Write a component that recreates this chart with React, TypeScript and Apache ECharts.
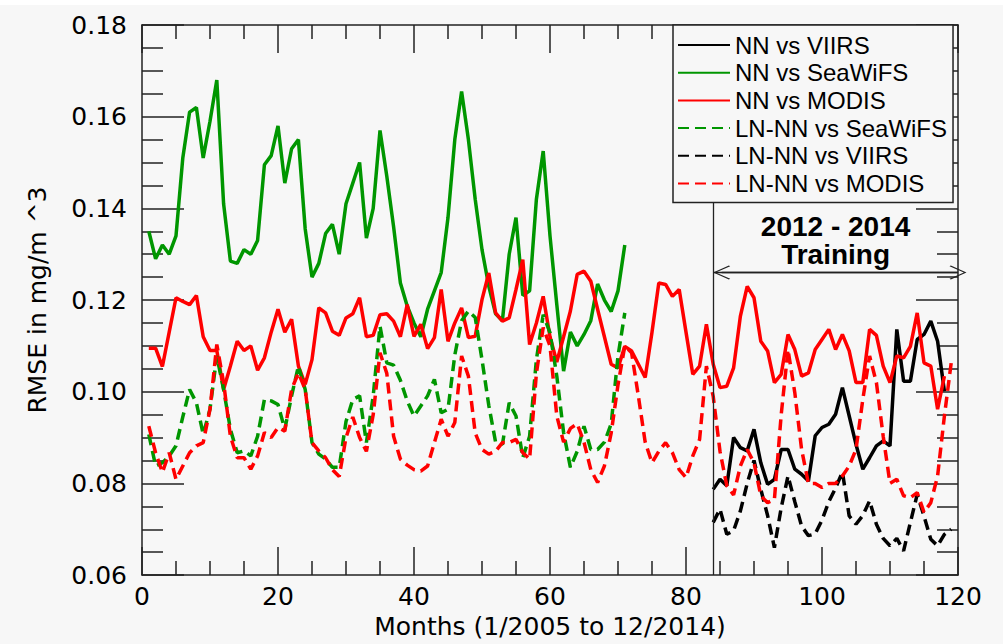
import React, { useEffect, useRef } from "react";
import * as echarts from "echarts";

// ---------- data (monthly RMSE, month 1 = 1/2005) ----------
const seriesNames = [
  "NN vs VIIRS",
  "NN vs SeaWiFS",
  "NN vs MODIS",
  "LN-NN vs SeaWiFS",
  "LN-NN vs VIIRS",
  "LN-NN vs MODIS",
];

const nnSeaWiFSStart = 1;
const nnSeaWiFS = [
  0.135, 0.129, 0.132, 0.13, 0.134, 0.151, 0.161, 0.162, 0.151, 0.159,
  0.168, 0.141, 0.1285, 0.128, 0.131, 0.13, 0.133, 0.1495, 0.1515, 0.158,
  0.1455, 0.153, 0.155, 0.1355, 0.125, 0.128, 0.1345, 0.1365, 0.13, 0.141,
  0.1455, 0.15, 0.1335, 0.14, 0.157, 0.147, 0.136, 0.1237, 0.1187, 0.115,
  0.112, 0.118, 0.122, 0.126, 0.138, 0.155, 0.1655, 0.155, 0.142, 0.131,
  0.123, 0.117, 0.1155, 0.13, 0.138, 0.121, 0.122, 0.142, 0.1525, 0.134,
  0.119, 0.1045, 0.113, 0.11, 0.1125, 0.1155, 0.1235, 0.12, 0.1175, 0.122,
  0.132,
];

const nnModisStart = 1;
const nnModis = [
  0.1095, 0.1095, 0.1055, 0.113, 0.1205, 0.1197, 0.119, 0.121, 0.112, 0.109,
  0.109, 0.1005, 0.1056, 0.111, 0.109, 0.11, 0.1047, 0.1074, 0.113, 0.118,
  0.113, 0.1158, 0.1056, 0.1016, 0.107, 0.1183, 0.1172, 0.1132, 0.1123, 0.1161,
  0.117, 0.1205, 0.112, 0.1123, 0.1168, 0.117, 0.1154, 0.112, 0.119, 0.1121,
  0.1147, 0.1094, 0.1118, 0.1223, 0.111, 0.115, 0.1183, 0.1118, 0.1121, 0.1201,
  0.1259, 0.1172, 0.1154, 0.1161, 0.1223, 0.1288, 0.1103, 0.115, 0.1208, 0.112,
  0.1065, 0.112, 0.1176, 0.1256, 0.1263, 0.1241, 0.118, 0.112, 0.106, 0.1052,
  0.1099, 0.1089, 0.106, 0.1031, 0.113, 0.1237, 0.1234, 0.1208, 0.1223, 0.113,
  0.1038, 0.1056, 0.1147, 0.106, 0.1009, 0.1012, 0.1052, 0.1165, 0.123, 0.1205,
  0.111, 0.1089, 0.102, 0.1038, 0.1125, 0.1092, 0.1034, 0.1041, 0.1092, 0.1114,
  0.1136, 0.1092, 0.1125, 0.1089, 0.102, 0.102, 0.1136, 0.1123, 0.1056, 0.102,
  0.1078, 0.1074, 0.1099, 0.1172, 0.1063, 0.1056, 0.0962, 0.1034,
];

const nnViirsStart = 84;
const nnViirs = [
  0.0787, 0.0809, 0.0795, 0.09, 0.0878, 0.0871, 0.0918,
  0.0845, 0.0798, 0.0809, 0.0874, 0.0874, 0.0831, 0.082, 0.0805, 0.0904, 0.0922,
  0.0929, 0.0951, 0.1009, 0.0947, 0.0885, 0.0831, 0.0856, 0.0882, 0.0893, 0.0882,
  0.1136, 0.1023, 0.1023, 0.1114, 0.1125, 0.1154, 0.111, 0.1001,
];

const lnSeaWiFSStart = 1;
const lnSeaWiFS = [
  0.0907, 0.0838, 0.0845, 0.086, 0.0882, 0.0945, 0.1005, 0.0976, 0.0907, 0.0962,
  0.1078, 0.1005, 0.0918, 0.0867, 0.0871, 0.086, 0.0903, 0.0983, 0.098, 0.0972,
  0.0918, 0.0991, 0.1056, 0.1005, 0.0889, 0.0864, 0.0853, 0.0835, 0.0835, 0.0935,
  0.0983, 0.0991, 0.0889, 0.0991, 0.1143, 0.1063, 0.1058, 0.1025, 0.098, 0.0947,
  0.0969, 0.0991, 0.1027, 0.0954, 0.0962, 0.108, 0.1155, 0.1176, 0.1162, 0.107,
  0.097, 0.089, 0.0885, 0.0976, 0.0947, 0.0856, 0.0903, 0.107, 0.1168, 0.1129,
  0.1034, 0.0911, 0.0835, 0.087, 0.0925, 0.0874, 0.0874, 0.089, 0.093, 0.1078,
  0.1172,
];

const lnViirsStart = 84;
const lnViirs = [
  0.0715, 0.0744, 0.0689, 0.0697, 0.074, 0.08, 0.085,
  0.0787, 0.073, 0.066, 0.0747, 0.0816, 0.076, 0.0707, 0.0686, 0.069, 0.072,
  0.076, 0.079, 0.0825, 0.0729, 0.0711, 0.073, 0.0762, 0.0711, 0.068, 0.0664,
  0.068, 0.0653, 0.0715, 0.0776, 0.0729, 0.0678, 0.0664, 0.0689, 0.07,
];

const lnModisStart = 1;
const lnModis = [
  0.0925, 0.0867, 0.0824, 0.0867, 0.0809, 0.0838, 0.0867, 0.0882, 0.0889, 0.0962,
  0.1103, 0.102, 0.0903, 0.0856, 0.0856, 0.0831, 0.086, 0.0911, 0.09, 0.0922,
  0.0914, 0.1005, 0.1041, 0.1005, 0.0889, 0.0871, 0.0856, 0.083, 0.0815, 0.09,
  0.0945, 0.09, 0.087, 0.095, 0.1085, 0.104, 0.0903, 0.0853, 0.084, 0.083,
  0.0827, 0.0838, 0.0889, 0.094, 0.0903, 0.0933, 0.1078, 0.1034, 0.091, 0.0874,
  0.0864, 0.087, 0.0889, 0.0889, 0.0896, 0.0867, 0.0853, 0.104, 0.114, 0.11,
  0.0947, 0.089, 0.092, 0.093, 0.089, 0.083, 0.0802, 0.0838, 0.091, 0.1015,
  0.11, 0.1085, 0.099, 0.089, 0.0845, 0.087, 0.0889, 0.0867, 0.083, 0.0813,
  0.086, 0.0896, 0.1056, 0.099, 0.087, 0.0795, 0.0775, 0.0838, 0.0874, 0.0845,
  0.0773, 0.0758, 0.0765, 0.095, 0.1092, 0.0998, 0.0874, 0.08, 0.08, 0.0791,
  0.08, 0.08, 0.0816, 0.0838, 0.0874, 0.0983, 0.1078, 0.102, 0.0903, 0.08,
  0.0809, 0.0773, 0.0769, 0.078, 0.0737, 0.0758, 0.0816, 0.0947, 0.1063,
];

const trainingStart = 84;
const trainingEnd = 120;
const trainingArrowY = 0.126;
const trainingLineTop = 0.1413;
const trainingLabel = ["2012 - 2014", "Training"];

const xMin = 0, xMax = 120, xInterval = 20;
const yMin = 0.06, yMax = 0.18, yInterval = 0.02;

// ---------- styling ----------
const AXIS_FONT = "'DejaVu Sans', sans-serif";
const LEGEND_FONT = "'Liberation Sans', Arial, sans-serif";
const AXIS_COLOR = "#222";
const GREEN = "#009600";
const RED = "#ff0000";
const BLACK = "#000000";
const DASH = [11, 6];
const LW = 3.5;
const CHEVRON = "path://M0,0 L10,14 L9,15.2 L0,2.4 L-9,15.2 L-10,14 Z";

const toPairs = (start: number, arr: number[]) => arr.map((v, i) => [start + i, v]);

function makeAxis(kind: "x" | "y", position: string, showLabel: boolean) {
  const isX = kind === "x";
  return {
    type: "value",
    position,
    min: isX ? xMin : yMin,
    max: isX ? xMax : yMax,
    interval: isX ? xInterval : yInterval,
    axisLine: { show: true, onZero: false, lineStyle: { color: AXIS_COLOR, width: 1.5 } },
    axisTick: { show: true, inside: true, length: isX ? 28 : 42, lineStyle: { color: AXIS_COLOR, width: 1.5 } },
    minorTick: { show: true, splitNumber: 4, length: isX ? 14 : 21, lineStyle: { color: AXIS_COLOR, width: 1.5 } },
    splitLine: { show: false },
    minorSplitLine: { show: false },
    axisLabel: {
      show: showLabel,
      color: "#000",
      fontSize: 25,
      fontFamily: AXIS_FONT,
      margin: isX ? 9 : 15,
      formatter: isX ? (v: number) => String(Math.round(v)) : (v: number) => v.toFixed(2),
    },
  } as any;
}

export default function App() {
  const ref = useRef<HTMLDivElement>(null);

  useEffect(() => {
    if (!ref.current) return;
    const chart = echarts.init(ref.current, undefined, { renderer: "svg" });

    const xBottom = makeAxis("x", "bottom", true);
    xBottom.name = "Months (1/2005 to 12/2014)";
    xBottom.nameLocation = "middle";
    xBottom.nameGap = 38;
    xBottom.nameTextStyle = { color: "#000", fontSize: 25, fontFamily: AXIS_FONT };
    const xTop = makeAxis("x", "top", false);
    const yLeft = makeAxis("y", "left", true);
    yLeft.name = "RMSE in mg/m ^3";
    yLeft.nameLocation = "middle";
    yLeft.nameGap = 92;
    yLeft.nameTextStyle = { color: "#000", fontSize: 25, fontFamily: AXIS_FONT };
    const yRight = makeAxis("y", "right", false);

    const lineSeries = (name: string, data: number[][], color: string, dashed: boolean, extra: any = {}) => ({
      name,
      type: "line",
      data,
      xAxisIndex: 0,
      yAxisIndex: 0,
      symbol: "none",
      showSymbol: false,
      lineStyle: { color, width: LW, type: dashed ? DASH : "solid" },
      itemStyle: { color },
      z: 3,
      ...extra,
    });

    const markLine = {
      silent: true,
      symbol: ["none", "none"],
      lineStyle: { color: AXIS_COLOR, width: 1.3, type: "solid" },
      label: { show: false },
      data: [
        [
          { coord: [trainingStart, yMin], symbol: "none" },
          { coord: [trainingStart, trainingLineTop], symbol: "none" },
        ],
        [
          {
            coord: [trainingStart, trainingArrowY],
            symbol: "none",
            label: {
              show: true,
              position: "middle",
              formatter: trainingLabel.join("\n"),
              color: "#000",
              fontSize: 28,
              fontWeight: "bold",
              fontFamily: LEGEND_FONT,
              lineHeight: 28,
              distance: 4,
            },
          },
          { coord: [trainingEnd, trainingArrowY], symbol: "none" },
        ],
        [
          { coord: [trainingStart + 1.25, trainingArrowY], symbol: CHEVRON, symbolSize: [14, 17] },
          { coord: [trainingEnd, trainingArrowY], symbol: CHEVRON, symbolSize: [14, 17] },
        ],
      ],
    };

    const option: any = {
      animation: false,
      backgroundColor: "#f7f7f7",
      grid: { left: 142, top: 25, width: 816, height: 551, containLabel: false },
      xAxis: [xBottom, xTop],
      yAxis: [yLeft, yRight],
      legend: {
        orient: "vertical",
        left: 673,
        top: 25,
        z: 10,
        padding: [8, 6, 7, 4],
        itemGap: 3.7,
        itemWidth: 52,
        itemHeight: 14,
        backgroundColor: "#f7f7f7",
        borderColor: AXIS_COLOR,
        borderWidth: 1.5,
        borderRadius: 0,
        selectedMode: false,
        itemStyle: { opacity: 0, borderWidth: 0 },
        textStyle: { color: "#000", fontSize: 24, fontFamily: LEGEND_FONT, lineHeight: 24 },
        data: seriesNames,
      },
      graphic: [
        { type: "rect", left: 0, top: 0, shape: { width: 1003, height: 5 }, style: { fill: "#ffffff" }, silent: true },
      ],
      series: [
        lineSeries(seriesNames[0], toPairs(nnViirsStart, nnViirs), BLACK, false, { markLine }),
        lineSeries(seriesNames[1], toPairs(nnSeaWiFSStart, nnSeaWiFS), GREEN, false),
        lineSeries(seriesNames[2], toPairs(nnModisStart, nnModis), RED, false),
        lineSeries(seriesNames[3], toPairs(lnSeaWiFSStart, lnSeaWiFS), GREEN, true),
        lineSeries(seriesNames[4], toPairs(lnViirsStart, lnViirs), BLACK, true),
        lineSeries(seriesNames[5], toPairs(lnModisStart, lnModis), RED, true),
      ],
    };

    chart.setOption(option);
    return () => chart.dispose();
  }, []);

  return (
    <div
      ref={ref}
      style={{ position: "fixed", left: 0, top: 0, width: 1003, height: 644, background: "#f7f7f7" }}
    />
  );
}
